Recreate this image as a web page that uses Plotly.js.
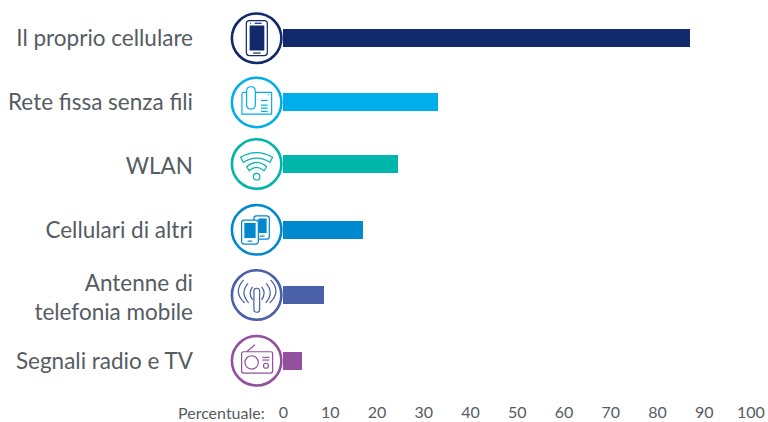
<!DOCTYPE html>
<html>
<head>
<meta charset="utf-8">
<script src="https://cdn.plot.ly/plotly-3.0.1.min.js"></script>
<style>html,body{margin:0;padding:0;background:#fff}#c{width:768px;height:422px}</style>
</head>
<body>
<div id="c"></div>
<script>
const categories = ["Il proprio cellulare","Rete fissa senza fili","WLAN","Cellulari di altri","Antenne di<br>telefonia mobile","Segnali radio e TV"];
const labelRows = [0,0.995,1.98,2.97,4.02,5.0];
const values = [87, 33, 24.5, 17, 8.6, 4];
const rows = [0,0.995,1.95,2.97,3.98,5.0];
const colors = ["#12296b","#00aeea","#00b5aa","#0089cf","#4a60a8","#92509f"];
const tickValues = [0,10,20,30,40,50,60,70,80,90,100];
const axisLabel = "Percentuale:";
const iconX = -5.73;

const T = "#565c62";
// icon helpers: coordinates are written y-down, pixel offsets from the circle centre
const P = (x,y)=>x+","+(-y);
const poly = (pts,close)=>pts.map((p,i)=>(i?"L":"M")+P(p[0],p[1])).join(" ")+(close?" Z":"");
const line = (a,b,c,d)=>poly([[a,b],[c,d]]);
const rrect = (x,y,w,h,r)=>"M"+P(x+r,y)+" L"+P(x+w-r,y)+" Q"+P(x+w,y)+" "+P(x+w,y+r)+" L"+P(x+w,y+h-r)+" Q"+P(x+w,y+h)+" "+P(x+w-r,y+h)+" L"+P(x+r,y+h)+" Q"+P(x,y+h)+" "+P(x,y+h-r)+" L"+P(x,y+r)+" Q"+P(x,y)+" "+P(x+r,y)+" Z";
const circ = (cx,cy,r)=>{const k=r*0.5523;return "M"+P(cx+r,cy)+" C"+P(cx+r,cy+k)+" "+P(cx+k,cy+r)+" "+P(cx,cy+r)+" C"+P(cx-k,cy+r)+" "+P(cx-r,cy+k)+" "+P(cx-r,cy)+" C"+P(cx-r,cy-k)+" "+P(cx-k,cy-r)+" "+P(cx,cy-r)+" C"+P(cx+k,cy-r)+" "+P(cx+r,cy-k)+" "+P(cx+r,cy)+" Z";};
const q = (a,b,c,d,e,f)=>"M"+P(a,b)+" Q"+P(c,d)+" "+P(e,f);
const band = (x1,y1,pk1,x2,y2,pk2)=>"M"+P(-x1,y1)+" Q"+P(0,2*pk1-y1)+" "+P(x1,y1)+" L"+P(x2,y2)+" Q"+P(0,2*pk2-y2)+" "+P(-x2,y2)+" Z";

const icons = [
 { stroke:[rrect(-10.3,-17.7,21,35,3), line(-2,-15,5,-15), line(-6.5,-15,-5.5,-15), line(-3.5,14.8,4,14.8)],
   fill:[rrect(-7,-12.7,14.7,25,0.3)] },
 { stroke:[ "M"+P(-10,-10)+" L"+P(-13.5,-10)+" Q"+P(-14.7,-10)+" "+P(-14.7,-8)+" L"+P(-14.7,11.7)+" L"+P(15,11.7)+" L"+P(15,-10)+" L"+P(-1.3,-10),
            rrect(-10,-15.7,8.7,22.4,4.3), line(4.3,-2,11,-2), line(4.3,2.7,11,2.7), line(4.3,5.7,11,5.7), line(4.3,9,11,9), line(11.5,-7.5,12.3,-7.5) ], fill:[] },
 { stroke:[ band(16,-6.7,-11.3,13.3,-1.7,-6), band(10,2.7,-1.7,7.3,6.7,3.3), circ(0,12.7,3.3) ], fill:[] },
 { stroke:[ "M"+P(-2.7,-9.7)+" L"+P(-2.7,-11.5)+" Q"+P(-2.7,-14)+" "+P(0,-14)+" L"+P(10,-14)+" Q"+P(12.7,-14)+" "+P(12.7,-11.5)+" L"+P(12.7,7)+" Q"+P(12.7,9.3)+" "+P(10,9.3)+" L"+P(1.7,9.3),
            rrect(-15,-9.7,16.7,24,2.5), line(-9,11.3,-4.5,11.3), line(3,6.3,8,6.3) ],
   fill:[ rrect(-12.3,-6.7,11.3,15,0.2), rrect(1.7,-11.3,8.3,14.6,0.2) ] },
 { stroke:[ rrect(-2.7,-6.7,5.7,24,2.8),
            q(-4,-8,-9,-2,-4,5), q(5,-8,10,-2,5,5),
            q(-8.5,-11.5,-17,-2,-8,8), q(9.5,-11.5,18,-2,9,8),
            q(-13,-15,-24,-3,-12,8), q(14,-15,25,-3,13,8) ], fill:[] },
 { stroke:[ rrect(-15,-9,31,21.3,2), line(-10,-9,-1.7,-16), circ(-5,1.7,6.7), circ(9.3,5,2.5), line(5.7,-3.3,12.7,-3.3), line(5.7,-0.7,12.7,-0.7) ], fill:[] }
];

const shapes = [];
icons.forEach((ic,i)=>{
  const base = {type:"path",xref:"x",yref:"y",xsizemode:"pixel",ysizemode:"pixel",xanchor:iconX,yanchor:rows[i],layer:"above"};
  ic.fill.forEach(p=>shapes.push(Object.assign({},base,{path:p,fillcolor:colors[i],line:{width:0}})));
  ic.stroke.forEach(p=>shapes.push(Object.assign({},base,{path:p,fillcolor:"rgba(0,0,0,0)",line:{color:colors[i],width:1.2}})));
});

const data = [
 {type:"bar",orientation:"h",x:values,y:rows,width:0.28,marker:{color:colors,line:{width:0}},hoverinfo:"skip",base:0},
 {type:"scatter",mode:"markers",x:rows.map(()=>iconX),y:rows,cliponaxis:false,hoverinfo:"skip",
  marker:{size:49.5,color:"#fff",opacity:1,line:{color:colors,width:2.6}}}
];
const layout = {
 width:768,height:422,paper_bgcolor:"#fff",plot_bgcolor:"#fff",showlegend:false,
 margin:{l:198,r:2.5,t:5.75,b:29.25},
 bargap:0,
 font:{family:"Lato,sans-serif",color:T},
 xaxis:{range:[-18.27,103],tickmode:"array",tickvals:tickValues,ticktext:tickValues.map(String),showgrid:false,zeroline:false,showline:false,ticks:"",ticklabelstandoff:8,tickfont:{size:16,color:T},automargin:false},
 yaxis:{range:[5.5,-0.5],tickmode:"array",tickvals:labelRows,ticktext:categories,showgrid:false,zeroline:false,showline:false,ticks:"",ticklen:0,ticklabelstandoff:4,tickfont:{size:22.5,color:T},automargin:false},
 annotations:[{text:axisLabel,xref:"x",yref:"paper",x:-3.6,y:0,yshift:-19,xanchor:"right",yanchor:"middle",showarrow:false,font:{size:16,color:T}}],
 shapes:shapes
};
Plotly.newPlot("c",data,layout,{displayModeBar:false,staticPlot:true});
</script>
</body>
</html>
